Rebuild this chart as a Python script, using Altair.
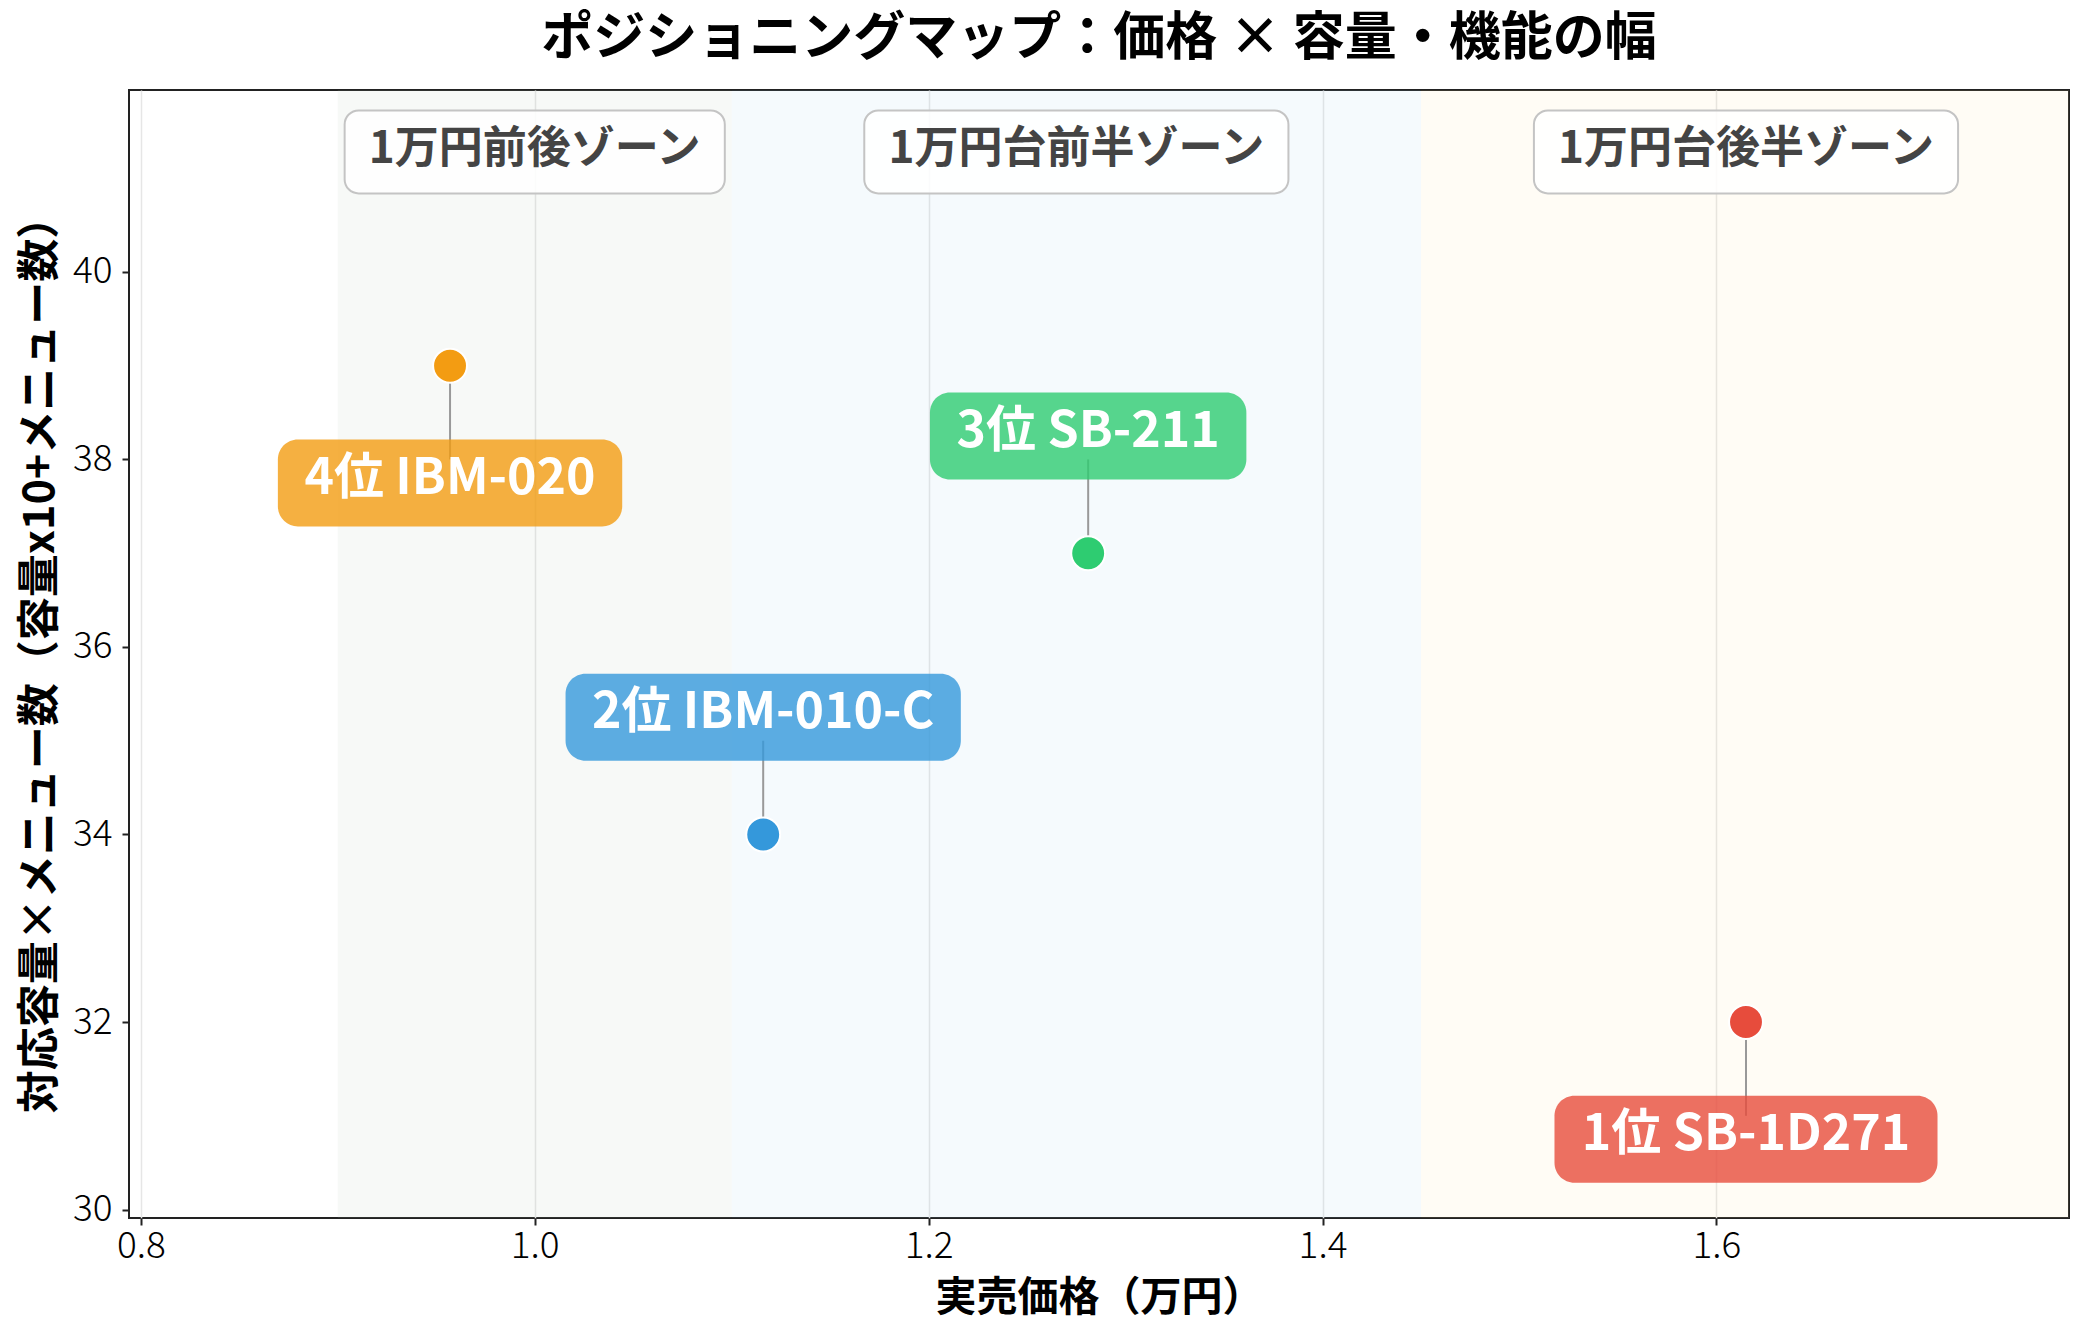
import altair as alt
import pandas as pd

# ranking products (price in 万円, score = 容量x10+メニュー数)
ranks = ["1位", "2位", "3位", "4位"]
models = ["SB-1D271", "IBM-010-C", "SB-211", "IBM-020"]
prices = [1.615, 1.116, 1.281, 0.957]
scores = [32, 34, 37, 39]
label_side = ["below", "above", "above", "below"]
point_colors = ["#e74c3c", "#3498db", "#2ecc71", "#f39c12"]

# price zones
zone_names = ["1万円前後ゾーン", "1万円台前半ゾーン", "1万円台後半ゾーン"]
zone_start = [0.9, 1.1, 1.45]
zone_end = [1.1, 1.45, 1.78]
zone_colors = ["#afc3af", "#9bcdeb", "#ffe19b"]

x_ticks = [0.8, 1.0, 1.2, 1.4, 1.6]
y_ticks = [30, 32, 34, 36, 38, 40]

# layout
FONT = "Noto Sans CJK JP"
W, H = 1940, 1128
X_DOM = [0.794, 1.779]
Y_DOM = [29.91, 41.94]
PX_X = W / (X_DOM[1] - X_DOM[0])
PX_Y = H / (Y_DOM[1] - Y_DOM[0])
LABEL_FS = 50
ZONE_FS = 44
LABEL_OFFSET = 1.25   # label centre distance from point (data units)
LINE_LEN = 1.0        # connector length (data units)
ZONE_LABEL_Y = 41.28

# rough glyph widths (em) for sizing the rounded label boxes
_em = {" ": 0.224, "I": 0.297, "-": 0.337, "M": 0.826, "B": 0.657,
       "S": 0.596, "D": 0.685, "C": 0.624}


def text_em(s):
    w = 0.0
    for ch in s:
        if ord(ch) > 0x2000:
            w += 1.0
        elif ch.isdigit():
            w += 0.572
        else:
            w += _em.get(ch, 0.6)
    return w


pts = pd.DataFrame({
    "rank": ranks, "model": models, "price": prices, "score": scores,
    "side": label_side,
})
pts["label"] = pts["rank"] + " " + pts["model"]
sign = pts["side"].map({"above": 1, "below": -1})
pts["label_y"] = pts["score"] + sign * LABEL_OFFSET
pts["line_end"] = pts["score"] + sign * LINE_LEN
half_w = pts["label"].map(lambda s: (text_em(s) * 53 + 46) / 2 / PX_X)
half_h = 87 / 2 / PX_Y
pts["bx1"] = pts["price"] - half_w
pts["bx2"] = pts["price"] + half_w
pts["by1"] = pts["label_y"] - half_h
pts["by2"] = pts["label_y"] + half_h

zones = pd.DataFrame({"zone": zone_names, "start": zone_start, "end": zone_end})
zones["mid"] = (zones["start"] + zones["end"]) / 2
zones["ly"] = ZONE_LABEL_Y
zhw = zones["zone"].map(lambda s: (text_em(s) * ZONE_FS + 47) / 2 / PX_X)
zones["bx1"] = zones["mid"] - zhw
zones["bx2"] = zones["mid"] + zhw
zones["by1"] = ZONE_LABEL_Y - 83 / 2 / PX_Y
zones["by2"] = ZONE_LABEL_Y + 83 / 2 / PX_Y

xs = alt.Scale(domain=X_DOM, nice=False, zero=False)
ys = alt.Scale(domain=Y_DOM, nice=False, zero=False)
color = alt.Color("model:N", scale=alt.Scale(domain=models, range=point_colors), legend=None)

zone_bg = alt.Chart(zones).mark_rect(opacity=0.1, clip=True).encode(
    x=alt.X("start:Q", scale=xs,
            axis=alt.Axis(values=x_ticks, format=".1f", title="実売価格（万円）")),
    x2="end:Q",
    y=alt.Y(datum=Y_DOM[0], scale=ys,
            axis=alt.Axis(values=y_ticks, format="d",
                          title="対応容量×メニュー数（容量x10+メニュー数）")),
    y2=alt.datum(Y_DOM[1]),
    fill=alt.Fill("zone:N", scale=alt.Scale(domain=zone_names, range=zone_colors), legend=None),
)

zone_box = alt.Chart(zones).mark_rect(
    cornerRadius=14, fill="white", fillOpacity=0.85, stroke="#c4c4c4", strokeWidth=2
).encode(x="bx1:Q", x2="bx2:Q", y="by1:Q", y2="by2:Q")

zone_text = alt.Chart(zones).mark_text(
    font=FONT, fontSize=ZONE_FS, fontWeight="bold", color="#444444", baseline="middle", dy=-2
).encode(x="mid:Q", y="ly:Q", text="zone:N")

connectors = alt.Chart(pts).mark_rule(color="#999999", strokeWidth=2).encode(
    x="price:Q", y="score:Q", y2="line_end:Q"
)

label_box = alt.Chart(pts).mark_rect(cornerRadius=20, opacity=0.8).encode(
    x="bx1:Q", x2="bx2:Q", y="by1:Q", y2="by2:Q", color=color
)

points = alt.Chart(pts).mark_circle(size=1150, opacity=1, stroke="white", strokeWidth=2).encode(
    x="price:Q", y="score:Q", color=color
)

label_text = alt.Chart(pts).mark_text(
    font=FONT, fontSize=LABEL_FS, fontWeight="bold", color="white", baseline="middle", dy=-4
).encode(x="price:Q", y="label_y:Q", text="label:N")

chart = alt.layer(
    zone_bg, zone_box, zone_text, connectors, label_box, points, label_text
).resolve_scale(
    color="independent", fill="independent"
).properties(
    width=W,
    height=H,
    autosize=alt.AutoSizeParams(type="none"),
    padding={"left": 121, "top": 82, "right": 7, "bottom": 108},
    title=alt.TitleParams(
        "ポジショニングマップ：価格 × 容量・機能の幅",
        font=FONT, fontSize=52, fontWeight="bold", color="black",
        anchor="middle", baseline="bottom", offset=-28,
    ),
).configure_view(
    stroke="#222222", strokeWidth=2
).configure_axis(
    labelFont=FONT, labelFontSize=37, labelColor="black", labelFontWeight=300,
    titleFont=FONT, titleFontSize=41, titleFontWeight="bold", titleColor="black",
    domain=False, tickColor="#222222", tickSize=7, tickWidth=2,
    gridColor="#e6e6e6", gridWidth=1.5,
).configure_axisX(
    labelPadding=3, titlePadding=14
).configure_axisY(
    labelPadding=10, titlePadding=10, titleFontSize=43
)

chart.save("out.html", embed_options={"renderer": "svg", "actions": False})
